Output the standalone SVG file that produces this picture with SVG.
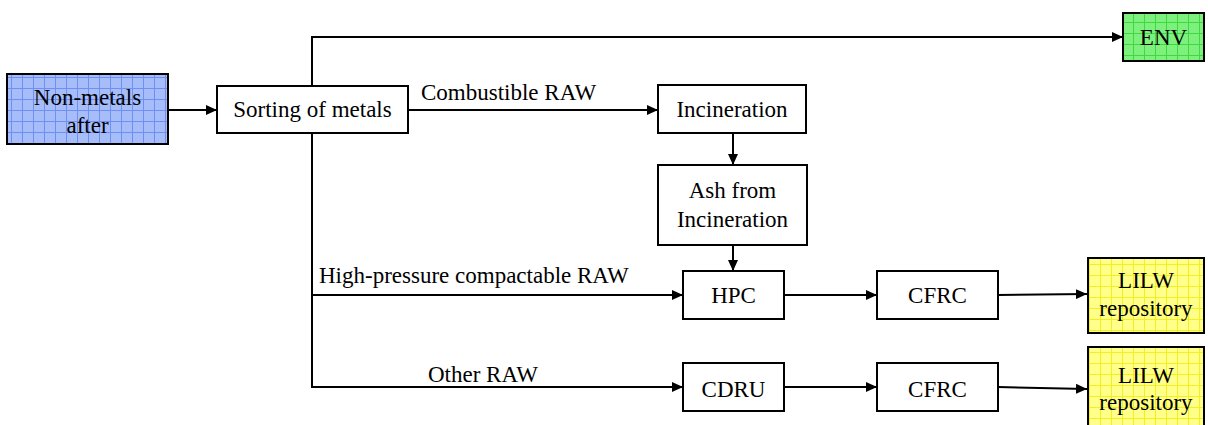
<svg xmlns="http://www.w3.org/2000/svg" width="1208" height="425" viewBox="0 0 1208 425" font-family="'Liberation Serif', 'Times New Roman', Tinos, 'DejaVu Serif', serif">
  <style>
    text { font-family: "Liberation Serif", "Times New Roman", Tinos, "DejaVu Serif", serif; font-size: 23px; fill: #000; }
    .c { text-anchor: middle; }
    .box { fill: #fff; stroke: #000; stroke-width: 2; }
    .filled { stroke: #000; stroke-width: 2; }
    .wire { fill: none; stroke: #000; stroke-width: 2; }
  </style>
  <defs>
    <marker id="arrow" viewBox="0 0 11 10" refX="11" refY="5" markerWidth="11" markerHeight="10" markerUnits="userSpaceOnUse" orient="auto">
      <path d="M0,0 L11,5 L0,10 z" fill="#000"/>
    </marker>
    <pattern id="gridBlue" width="11" height="11" patternUnits="userSpaceOnUse">
      <rect width="11" height="11" fill="#a6bdfa"/>
      <path d="M0,0.5 H11 M0.5,0 V11" stroke="#6f90f2" stroke-width="1"/>
    </pattern>
    <pattern id="gridGreen" width="11" height="11" patternUnits="userSpaceOnUse">
      <rect width="11" height="11" fill="#7ef07e"/>
      <path d="M0,0.5 H11 M0.5,0 V11" stroke="#3fd83f" stroke-width="1"/>
    </pattern>
    <pattern id="gridYellow" width="11" height="11" patternUnits="userSpaceOnUse">
      <rect width="11" height="11" fill="#ffff8a"/>
      <path d="M0,0.5 H11 M0.5,0 V11" stroke="#f2f020" stroke-width="1"/>
    </pattern>
  </defs>

  <!-- connectors -->
  <g id="connectors">
    <line class="wire" x1="168" y1="110" x2="217" y2="110" marker-end="url(#arrow)"/>
    <polyline class="wire" points="312,86 312,37 1123,37" marker-end="url(#arrow)"/>
    <line class="wire" x1="408" y1="110" x2="658" y2="110" marker-end="url(#arrow)"/>
    <line class="wire" x1="733" y1="133" x2="733" y2="165" marker-end="url(#arrow)"/>
    <line class="wire" x1="733" y1="245" x2="733" y2="271" marker-end="url(#arrow)"/>
    <polyline class="wire" points="312,133 312,387 683,387" marker-end="url(#arrow)"/>
    <line class="wire" x1="312" y1="295" x2="683" y2="295" marker-end="url(#arrow)"/>
    <line class="wire" x1="784" y1="295" x2="877" y2="295" marker-end="url(#arrow)"/>
    <line class="wire" x1="784" y1="387" x2="877" y2="387" marker-end="url(#arrow)"/>
    <line class="wire" x1="998" y1="295" x2="1087" y2="294" marker-end="url(#arrow)"/>
    <line class="wire" x1="998" y1="387" x2="1087" y2="389" marker-end="url(#arrow)"/>
    <text x="421" y="100">Combustible RAW</text>
    <text x="319" y="283">High-pressure compactable RAW</text>
    <text x="428" y="382">Other RAW</text>
  </g>

  <!-- nodes -->
  <g id="non-metals">
    <rect class="filled" x="7" y="74" width="161" height="70" fill="url(#gridBlue)"/>
    <text class="c" x="87.5" y="105">Non-metals</text>
    <text class="c" x="87.5" y="133">after</text>
  </g>
  <g id="sorting">
    <rect class="box" x="217" y="86" width="191" height="47"/>
    <text class="c" x="312.5" y="117">Sorting of metals</text>
  </g>
  <g id="env">
    <rect class="filled" x="1123" y="13" width="81" height="48" fill="url(#gridGreen)"/>
    <text class="c" x="1163.5" y="45">ENV</text>
  </g>
  <g id="incineration">
    <rect class="box" x="658" y="85" width="148" height="48"/>
    <text class="c" x="732" y="117">Incineration</text>
  </g>
  <g id="ash">
    <rect class="box" x="658" y="165" width="149" height="80"/>
    <text class="c" x="732.5" y="198">Ash from</text>
    <text class="c" x="732.5" y="227">Incineration</text>
  </g>
  <g id="hpc">
    <rect class="box" x="683" y="271" width="101" height="48"/>
    <text class="c" x="733.5" y="303">HPC</text>
  </g>
  <g id="cfrc-1">
    <rect class="box" x="877" y="271" width="121" height="48"/>
    <text class="c" x="937.5" y="303">CFRC</text>
  </g>
  <g id="lilw-1">
    <rect class="filled" x="1088" y="258" width="116" height="75" fill="url(#gridYellow)"/>
    <text class="c" x="1146" y="288">LILW</text>
    <text class="c" x="1146" y="316">repository</text>
  </g>
  <g id="cdru">
    <rect class="box" x="683" y="363" width="101" height="48"/>
    <text class="c" x="733.5" y="397">CDRU</text>
  </g>
  <g id="cfrc-2">
    <rect class="box" x="877" y="363" width="121" height="48"/>
    <text class="c" x="937.5" y="397">CFRC</text>
  </g>
  <g id="lilw-2">
    <rect class="filled" x="1088" y="347" width="116" height="80" fill="url(#gridYellow)"/>
    <text class="c" x="1146" y="383">LILW</text>
    <text class="c" x="1146" y="410">repository</text>
  </g>
</svg>
